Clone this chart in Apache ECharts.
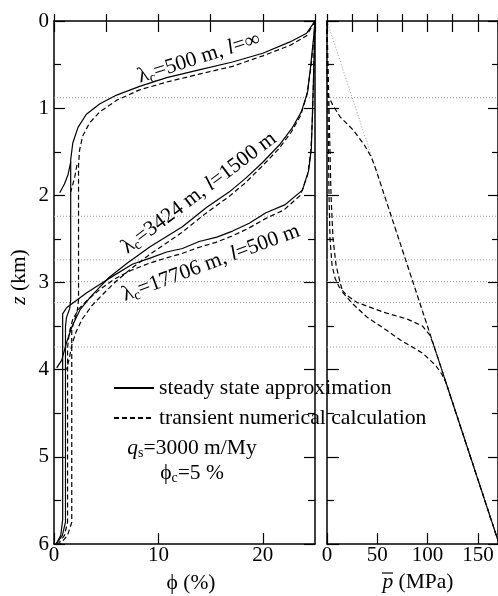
<!DOCTYPE html>
<html><head><meta charset="utf-8">
<script src="https://cdn.jsdelivr.net/npm/echarts@6/dist/echarts.min.js"></script>
<style>html,body{margin:0;padding:0;background:#fff}#c{width:498px;height:596px}</style>
</head><body><div id="c"></div><script>
// ---------- data: [phi (%), z (km)] ----------
const steadyA = [[25,0],[24.2,0.14],[22.6,0.24],[20.0,0.37],[17.1,0.47],[13.9,0.56],[10.8,0.65],[8.2,0.75],[6.0,0.85],[4.4,0.95],[3.1,1.07],[2.3,1.22],[1.8,1.40],[1.6,1.59],[1.6,3.2],[1.5,3.3],[1.2,3.4],[1.1,3.5],[1.1,5.75],[0.8,5.9],[0.2,6.0]];
const steadyABranch = [[1.6,1.62],[1.35,1.76],[1.0,1.87],[0.55,1.97]];
const transientA = [[25,0],[24.2,0.17],[22.6,0.28],[20.0,0.40],[17.1,0.52],[13.9,0.61],[10.8,0.70],[8.2,0.79],[6.0,0.91],[4.4,1.04],[3.4,1.17],[2.75,1.32],[2.45,1.48],[2.35,1.65],[2.35,3.2],[2.2,3.35],[1.9,3.45],[1.7,3.55],[1.7,5.75],[1.3,5.9],[0.6,6.0]];
const transientABranch = [[2.2,1.65],[2.0,1.78],[1.75,1.9],[1.6,1.96]];
const steadyB = [[25,0],[24.9,0.15],[24.6,0.50],[24.3,0.81],[23.7,1.04],[22.8,1.23],[21.6,1.42],[20.0,1.62],[18.4,1.80],[16.8,1.96],[14.6,2.14],[12.3,2.36],[9.2,2.59],[7.0,2.78],[5.3,2.94],[4.4,3.05],[3.4,3.18],[2.5,3.31],[1.7,3.51],[1.2,3.69],[0.74,3.89],[0.26,3.98]];
const transientB = [[25,0],[24.9,0.18],[24.6,0.54],[24.2,0.86],[23.6,1.09],[22.7,1.28],[21.5,1.47],[19.9,1.67],[18.3,1.86],[16.7,2.02],[14.5,2.21],[12.2,2.43],[9.5,2.65],[7.5,2.83],[6.0,2.98],[4.8,3.12],[3.6,3.27],[2.7,3.42],[2.1,3.57],[1.7,3.72],[1.45,3.88],[1.2,4.0]];
const steadyC = [[25,0],[24.95,0.22],[24.85,0.68],[24.75,1.08],[24.65,1.46],[24.4,1.71],[23.8,1.94],[22.1,2.11],[20.3,2.20],[18.7,2.32],[17.1,2.41],[15.6,2.48],[13.9,2.53],[12.3,2.61],[10.8,2.65],[9.2,2.72],[7.5,2.79],[5.05,2.97],[3.1,3.12],[2.2,3.20],[1.2,3.29],[0.83,3.36],[0.83,5.72],[0.65,5.9],[0.25,5.99]];
const transientC = [[25,0],[24.95,0.25],[24.85,0.72],[24.75,1.12],[24.6,1.5],[24.3,1.76],[23.6,2.0],[22.0,2.17],[20.2,2.27],[18.6,2.38],[17.0,2.47],[15.5,2.54],[13.8,2.6],[12.2,2.67],[10.7,2.72],[9.1,2.78],[7.4,2.86],[5.8,2.96],[4.5,3.07],[3.3,3.19],[2.4,3.3],[1.8,3.42],[1.45,3.58],[1.3,3.75],[1.3,5.75],[1.0,5.9],[0.4,6.0]];
// ---------- data: [p (MPa), z (km)] ----------
const lithostatic = [[0,0],[170,5.96]];
const pressureA = [[0,0],[0,0.6],[1,0.85],[6,0.97],[13,1.1],[26,1.25],[37,1.42],[44,1.56],[48.5,1.7],[170,5.96]];
const pressureB = [[0,0],[1,0.5],[2,1.0],[3,1.5],[4,2.0],[6,2.5],[9,2.8],[13,3.0],[16,3.12],[26,3.25],[40,3.4],[57,3.53],[73,3.66],[95,3.81],[108,3.95],[114,4.05],[118,4.14],[170,5.96]];
const pressureC = [[0,0],[0.5,0.5],[1,1.0],[1.5,1.5],[2,2.0],[3,2.5],[5,2.8],[8,2.95],[12,3.05],[20,3.15],[30,3.23],[56,3.34],[80,3.42],[95,3.5],[102,3.6],[105.5,3.7],[170,5.96]];
// reference depths (dotted horizontal lines)
const refDepths = [0.88, 2.24, 2.74, 2.99, 3.23, 3.74];
// axis ranges
const phiRange = [0, 25];
const pRange = [0, 170];
const zRange = [0, 6];

const FONT = '"Liberation Serif", "Times New Roman", serif';
const BLACK = '#000';
const SOLID = 'steady state approximation';
const DASH = 'transient numerical calculation';

const chart = echarts.init(document.getElementById('c'), null, {renderer: 'canvas'});

function xAx(grid, range, interval, pos, opts) {
  return Object.assign({
    type: 'value', gridIndex: grid, min: range[0], max: range[1], interval: interval, position: pos,
    axisLine: {show: true, onZero: false, lineStyle: {color: BLACK, width: 1.5}},
    axisTick: {show: true, inside: true, length: 11, lineStyle: {color: BLACK, width: 1.2}},
    axisLabel: {show: false},
    splitLine: {show: false}
  }, opts || {});
}
function yAx(grid, pos, showLabel, majorLen, minorLen) {
  return {
    type: 'value', gridIndex: grid, min: zRange[0], max: zRange[1], interval: 1, inverse: true, position: pos,
    axisLine: {show: true, onZero: false, lineStyle: {color: BLACK, width: 1.5}},
    axisTick: {show: true, inside: true, length: majorLen, lineStyle: {color: BLACK, width: 1.2}},
    minorTick: {show: true, splitNumber: 2, length: minorLen, lineStyle: {color: BLACK, width: 1.2}},
    axisLabel: {show: showLabel, fontFamily: FONT, fontSize: 21, color: BLACK, margin: 5},
    splitLine: {show: false}, minorSplitLine: {show: false}
  };
}
const labelStyle = {show: true, fontFamily: FONT, fontSize: 21, color: BLACK, margin: 1, showMaxLabel: false};

const xAxis = [
  xAx(0, phiRange, 10, 'bottom', {axisLabel: labelStyle}),
  xAx(0, phiRange, 5, 'bottom', {axisLine: {show: false}, axisTick: {show: true, inside: true, length: 7, lineStyle: {color: BLACK, width: 1.2}}}),
  xAx(0, phiRange, 5, 'top'),
  xAx(1, pRange, 50, 'bottom', {axisLabel: labelStyle}),
  xAx(1, pRange, 25, 'bottom', {axisLine: {show: false}, axisTick: {show: true, inside: true, length: 7, lineStyle: {color: BLACK, width: 1.2}}}),
  xAx(1, pRange, 25, 'top')
];
const yAxis = [
  yAx(0, 'left', true, 11, 7),
  yAx(0, 'right', false, 11, 7),
  yAx(1, 'left', false, 12, 7),
  yAx(1, 'right', false, 10, 6)
];

function line(name, data, xi, yi, dashed) {
  return {
    name: name, type: 'line', data: data, xAxisIndex: xi, yAxisIndex: yi,
    symbol: 'none', showSymbol: false, smooth: false, animation: false, silent: true,
    lineStyle: {color: BLACK, width: 1.2, type: dashed ? [5, 3] : 'solid'},
    itemStyle: {color: BLACK}
  };
}
const dotted = {color: '#9a9a9a', width: 1, type: [1, 2]};
const series = [];
refDepths.forEach(z => {
  series.push({type: 'line', data: [[phiRange[0], z], [phiRange[1], z]], xAxisIndex: 0, yAxisIndex: 0, symbol: 'none', silent: true, animation: false, lineStyle: dotted});
  series.push({type: 'line', data: [[pRange[0], z], [pRange[1], z]], xAxisIndex: 3, yAxisIndex: 2, symbol: 'none', silent: true, animation: false, lineStyle: dotted});
});
series.push({type: 'line', data: lithostatic, xAxisIndex: 3, yAxisIndex: 2, symbol: 'none', silent: true, animation: false, lineStyle: dotted});
series.push(line(SOLID, steadyA, 0, 0, false));
series.push(line(SOLID, steadyABranch, 0, 0, false));
series.push(line(SOLID, steadyB, 0, 0, false));
series.push(line(SOLID, steadyC, 0, 0, false));
series.push(line(DASH, transientA, 0, 0, true));
series.push(line(DASH, transientABranch, 0, 0, true));
series.push(line(DASH, transientB, 0, 0, true));
series.push(line(DASH, transientC, 0, 0, true));
series.push(line(DASH, pressureA, 3, 2, true));
series.push(line(DASH, pressureB, 3, 2, true));
series.push(line(DASH, pressureC, 3, 2, true));

const FS = 21.5;
const rich = {
  n: {fontFamily: FONT, fontSize: FS, color: BLACK, lineHeight: 24},
  i: {fontFamily: FONT, fontSize: FS, color: BLACK, fontStyle: 'italic', lineHeight: 24},
  s: {fontFamily: FONT, fontSize: 14, color: BLACK, lineHeight: 14, verticalAlign: 'bottom'}
};
function rtext(x, y, text, rotDeg) {
  return {type: 'text', x: x, y: y, rotation: (rotDeg || 0) * Math.PI / 180, silent: true,
    style: {text: text, rich: rich, align: 'center', verticalAlign: 'middle', fill: BLACK, fontFamily: FONT, fontSize: FS}};
}

const graphic = [
  rtext(199, 58, '{n|λ}{s|c}{n|=500 m, }{i|l}{n|=∞}', 17.7),
  rtext(199, 193, '{n|λ}{s|c}{n|=3424 m, }{i|l}{n|=1500 m}', 37),
  rtext(211, 263, '{n|λ}{s|c}{n|=17706 m, }{i|l}{n|=500 m}', 20.4),
  rtext(192, 448, '{i|q}{s|s}{n|=3000 m/My}', 0),
  rtext(192, 473, '{n|ϕ}{s|c}{n|=5 %}', 0),
  rtext(19, 277, '{i|z}{n| (km)}', 90),
  rtext(191, 583, '{n|ϕ (%)}', 0),
  rtext(418, 582, '{i|p}{n| (MPa)}', 0),
  {type: 'line', silent: true, shape: {x1: 382, y1: 573, x2: 393, y2: 573}, style: {stroke: BLACK, lineWidth: 1.2}}
];

chart.setOption({
  backgroundColor: '#fff',
  animation: false,
  grid: [
    {left: 54, top: 21, width: 261, height: 523, outerBoundsMode: 'none'},
    {left: 327, top: 21, width: 171, height: 523, outerBoundsMode: 'none'}
  ],
  xAxis: xAxis,
  yAxis: yAxis,
  legend: {
    show: true, orient: 'vertical', left: 113, top: 376, padding: 0, itemWidth: 40, itemHeight: 14, itemGap: 6,
    selectedMode: false, data: [SOLID, DASH],
    itemStyle: {opacity: 0},
    textStyle: {fontFamily: FONT, fontSize: 21.7, color: BLACK, lineHeight: 24}
  },
  series: series,
  graphic: graphic
});
</script></body></html>
